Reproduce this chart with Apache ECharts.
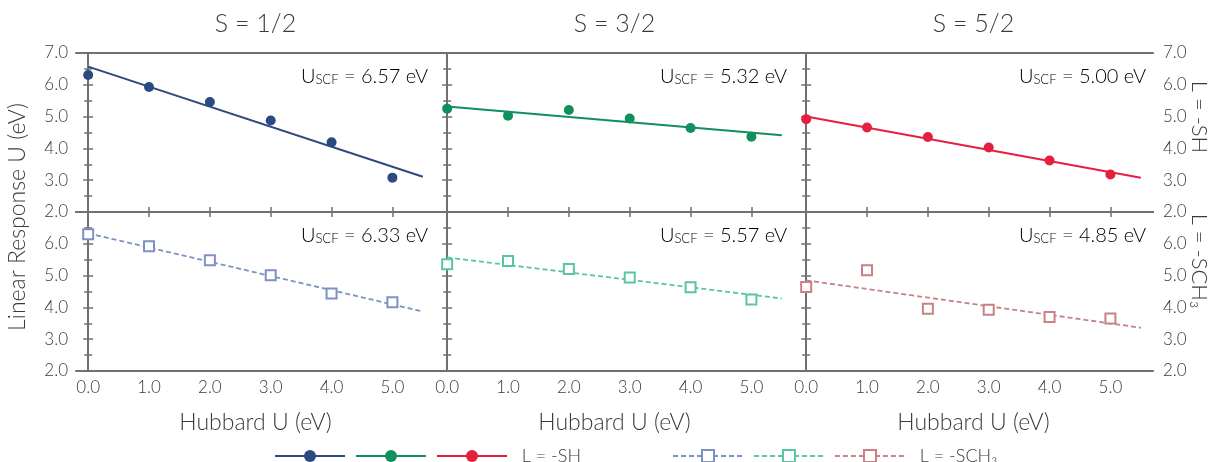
<!DOCTYPE html>
<html>
<head>
<meta charset="utf-8">
<script src="https://cdn.jsdelivr.net/npm/echarts@6/dist/echarts.min.js"></script>
<style>
  html, body { margin: 0; padding: 0; background: #fff; }
  #chart { width: 1214px; height: 462px; }
</style>
</head>
<body>
<div id="chart"></div>
<script>
// ---- data ----
const hubbardU = [0, 1, 2, 3, 4, 5];
const xTickValues = [0, 1, 2, 3, 4, 5];
const panelTitles = ['S = 1/2', 'S = 3/2', 'S = 5/2'];

// L = -SH (filled circles)
const shS12 = [6.31, 5.93, 5.46, 4.88, 4.19, 3.08];
const shS32 = [5.25, 5.03, 5.21, 4.94, 4.64, 4.37];
const shS52 = [4.92, 4.66, 4.36, 4.03, 3.62, 3.18];
// L = -SCH3 (open squares)
const schS12 = [6.30, 5.92, 5.48, 5.01, 4.44, 4.16];
const schS32 = [5.36, 5.46, 5.21, 4.94, 4.63, 4.25];
const schS52 = [4.64, 5.17, 3.96, 3.93, 3.70, 3.65];

// fitted lines: endpoints at U = 0 and U = 5.5
const fitU = [0, 5.5];
const fitShS12 = [6.57, 3.11];
const fitShS32 = [5.32, 4.41];
const fitShS52 = [5.00, 3.08];
const fitSchS12 = [6.33, 3.87];
const fitSchS32 = [5.57, 4.28];
const fitSchS52 = [4.85, 3.36];

const uscfSH = ['6.57', '5.32', '5.00'];
const uscfSCH = ['6.33', '5.57', '4.85'];

const seriesNamesSH = ['-SH, S = 1/2', '-SH, S = 3/2', '-SH, S = 5/2'];
const seriesNamesSCH = ['-SCH3, S = 1/2', '-SCH3, S = 3/2', '-SCH3, S = 5/2'];

// ---- styling ----
const FONT = 'Lato, "Open Sans", sans-serif';
const FW = 300;
const TXT = '#3a3a3a';
const AX = '#707070';
const colorsSH = ['#2b4a80', '#118f5c', '#e3213f'];
const colorsSCH = ['#7d92c2', '#58c6a2', '#c98185'];

const colLeft = [76, 435, 794];
const rowTop = [53, 212];
const W = 359, H = 159;

const pointsByPanel = [[shS12, shS32, shS52], [schS12, schS32, schS52]];
const fitsByPanel = [[fitShS12, fitShS32, fitShS52], [fitSchS12, fitSchS32, fitSchS52]];
const uscfByPanel = [uscfSH, uscfSCH];
const namesByPanel = [seriesNamesSH, seriesNamesSCH];
const colorsByPanel = [colorsSH, colorsSCH];

const grids = [], xAxes = [], yAxes = [], series = [], graphics = [];

for (let r = 0; r < 2; r++) {
  for (let c = 0; c < 3; c++) {
    const g = r * 3 + c;
    grids.push({ left: colLeft[c], top: rowTop[r], width: W, height: H, containLabel: false });

    const axisLine = { show: true, lineStyle: { color: AX, width: 2 } };
    xAxes.push({
      gridIndex: g, type: 'value', position: 'bottom', min: -0.2, max: 5.7,
      axisLine: axisLine,
      axisTick: { show: r === 0, inside: true, length: 5, customValues: xTickValues, lineStyle: { color: AX, width: 1.5 } },
      axisLabel: { show: r === 1, customValues: xTickValues, formatter: v => v.toFixed(1), margin: 8,
                   fontFamily: FONT, fontWeight: FW, fontSize: 17, color: TXT },
      splitLine: { show: false },
      name: r === 1 ? 'Hubbard U (eV)' : '',
      nameLocation: 'middle', nameGap: 40,
      nameTextStyle: { fontFamily: FONT, fontWeight: FW, fontSize: 23, color: TXT }
    });
    xAxes.push({
      gridIndex: g, type: 'value', position: 'top', min: -0.2, max: 5.7,
      axisLine: axisLine,
      axisTick: { show: r === 1, inside: true, length: 5, customValues: xTickValues, lineStyle: { color: AX, width: 1.5 } },
      axisLabel: { show: false },
      splitLine: { show: false }
    });

    const yLabelFmt = v => (r === 1 && v === 7) ? '' : v.toFixed(1);
    ['left', 'right'].forEach(pos => {
      yAxes.push({
        gridIndex: g, type: 'value', position: pos, min: 2, max: 7, interval: 1,
        axisLine: axisLine,
        axisTick: { show: true, inside: true, length: 5, lineStyle: { color: AX, width: 1.5 } },
        minorTick: { show: true, splitNumber: 2, length: 4, lineStyle: { color: AX, width: 1.5 } },
        axisLabel: { show: (pos === 'left' && c === 0) || (pos === 'right' && c === 2),
                     formatter: yLabelFmt, margin: pos === 'left' ? 8 : 10,
                     fontFamily: FONT, fontWeight: FW, fontSize: 17, color: TXT },
        splitLine: { show: false }, minorSplitLine: { show: false }
      });
    });

    const col = colorsByPanel[r][c];
    const fit = fitsByPanel[r][c];
    const pts = pointsByPanel[r][c];
    series.push({
      type: 'line', name: namesByPanel[r][c],
      xAxisIndex: 2 * g, yAxisIndex: 2 * g,
      data: fitU.map((u, i) => [u, fit[i]]),
      symbol: r === 0 ? 'circle' : 'emptyRect', showSymbol: false, symbolSize: 10,
      itemStyle: { color: col, opacity: 1 },
      lineStyle: { color: col, width: r === 0 ? 2 : 1.8, type: r === 0 ? 'solid' : [5, 3] },
      silent: true, animation: false, z: 2
    });
    series.push({
      type: 'scatter', name: namesByPanel[r][c] + ' pts',
      xAxisIndex: 2 * g, yAxisIndex: 2 * g,
      data: hubbardU.map((u, i) => [u, pts[i]]),
      symbol: r === 0 ? 'circle' : 'emptyRect', symbolSize: 10,
      itemStyle: r === 0 ? { color: col, opacity: 1 } : { color: col, borderColor: col, borderWidth: 2, opacity: 1 },
      silent: true, animation: false, z: 3
    });

    graphics.push({
      type: 'text', x: colLeft[c] + W - 7, y: rowTop[r] + 23,
      style: {
        text: '{u|U}{s|SCF}{u| = ' + uscfByPanel[r][c] + ' eV}',
        align: 'right', verticalAlign: 'middle',
        rich: {
          u: { fontFamily: FONT, fontWeight: FW, fontSize: 20, color: TXT, verticalAlign: 'bottom', lineHeight: 21 },
          s: { fontFamily: FONT, fontWeight: FW, fontSize: 13, color: TXT, verticalAlign: 'bottom', lineHeight: 18 }
        }
      }
    });
  }
}

panelTitles.forEach((t, c) => {
  graphics.push({
    type: 'text', x: colLeft[c] + W / 2, y: 24,
    style: { text: t, align: 'center', verticalAlign: 'middle', fontFamily: FONT, fontWeight: FW, fontSize: 25, fill: TXT }
  });
});
graphics.push({
  type: 'text', x: 18, y: 217, rotation: Math.PI / 2,
  style: { text: 'Linear Response U (eV)', align: 'center', verticalAlign: 'middle', fontFamily: FONT, fontWeight: FW, fontSize: 23, fill: TXT }
});
graphics.push({
  type: 'text', x: 1199, y: 117, rotation: -Math.PI / 2,
  style: { text: 'L = -SH', align: 'center', verticalAlign: 'middle', fontFamily: FONT, fontWeight: FW, fontSize: 22, fill: TXT }
});
graphics.push({
  type: 'text', x: 1199, y: 261, rotation: -Math.PI / 2,
  style: { text: 'L = -SCH₃', align: 'center', verticalAlign: 'middle', fontFamily: FONT, fontWeight: FW, fontSize: 22, fill: TXT }
});

const legendBase = {
  orient: 'horizontal', top: 447, padding: 0, itemWidth: 70, itemHeight: 15, itemGap: 9,
  selectedMode: false,
  textStyle: { fontFamily: FONT, fontWeight: FW, fontSize: 18, color: TXT }
};

const option = {
  backgroundColor: '#fff',
  animation: false,
  grid: grids,
  xAxis: xAxes,
  yAxis: yAxes,
  series: series,
  graphic: graphics,
  legend: [
    Object.assign({}, legendBase, {
      left: 274, data: seriesNamesSH,
      formatter: n => n === seriesNamesSH[2] ? '  L = -SH' : ''
    }),
    Object.assign({}, legendBase, {
      left: 672, data: seriesNamesSCH,
      formatter: n => n === seriesNamesSCH[2] ? '  L = -SCH₃' : ''
    })
  ]
};

const chart = echarts.init(document.getElementById('chart'), null, { renderer: 'canvas' });
chart.setOption(option);
</script>
</body>
</html>
